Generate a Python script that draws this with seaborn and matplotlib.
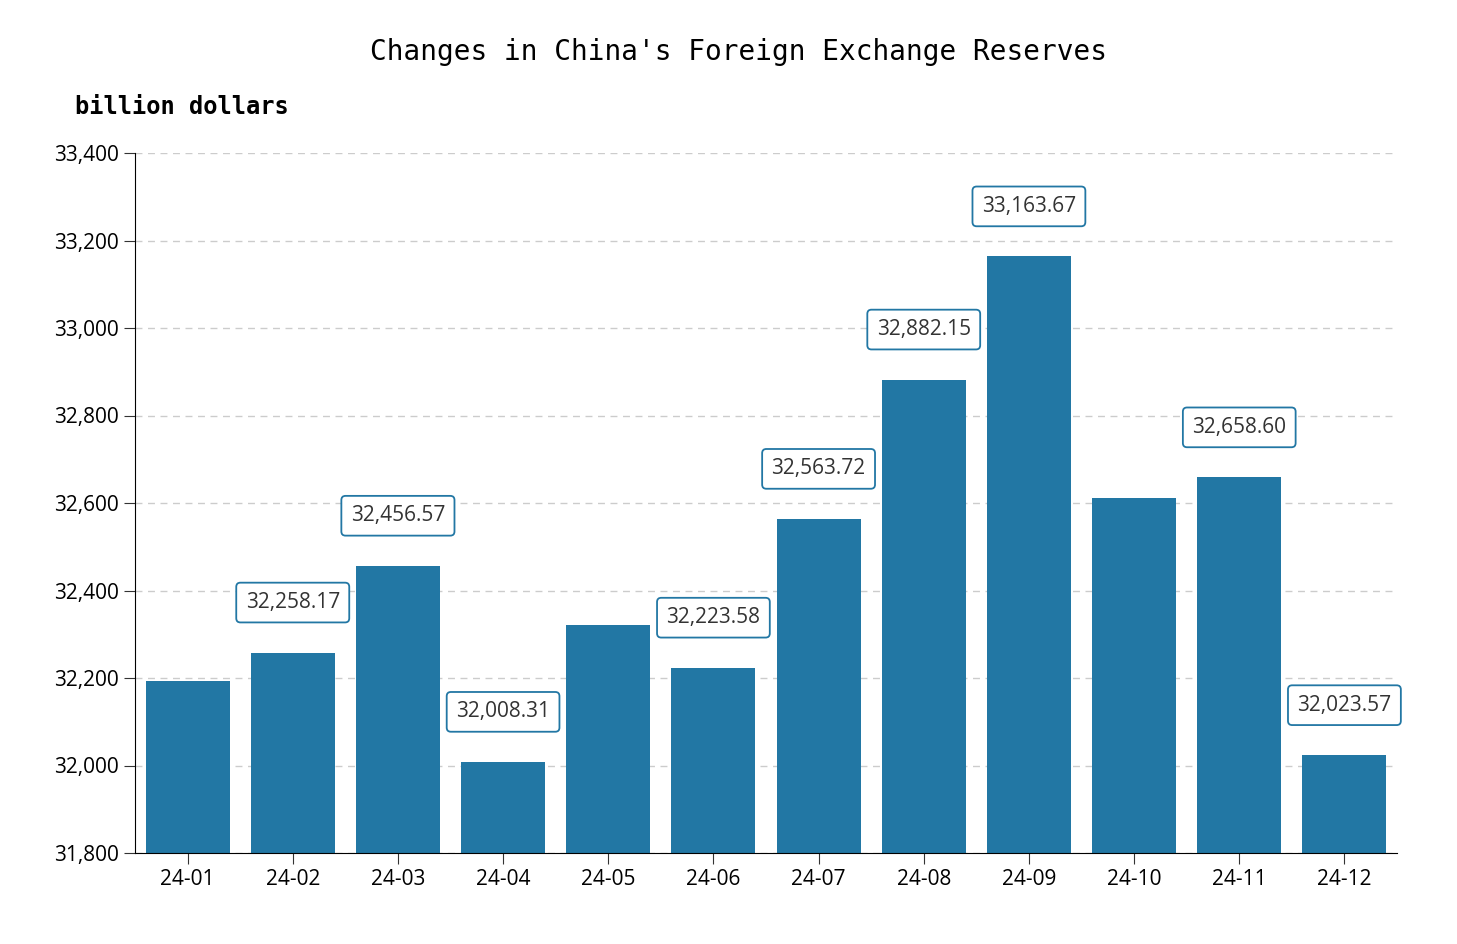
import matplotlib
matplotlib.use("Agg")
import matplotlib.pyplot as plt
import seaborn as sns
import pandas as pd

months = ["24-01","24-02","24-03","24-04","24-05","24-06","24-07","24-08","24-09","24-10","24-11","24-12"]
values = [32193.0, 32258.17, 32456.57, 32008.31, 32321.0, 32223.58, 32563.72, 32882.15, 33163.67, 32611.0, 32658.60, 32023.57]
labeled = [False, True, True, True, False, True, True, True, True, False, True, True]

df = pd.DataFrame({"month": months, "value": values})
fig = plt.figure(figsize=(14.57, 9.44), dpi=100)
ax = fig.add_axes([135/1457, 1-853/944, (1397-135)/1457, 700/944])
sns.barplot(data=df, x="month", y="value", color="#2277a4", saturation=1, width=0.8, ax=ax)
ax.set_ylim(31800, 33400)
ax.set_yticks(range(31800, 33401, 200))
ax.set_yticklabels([f"{v:,}" for v in range(31800, 33401, 200)], fontsize=15, fontfamily="Open Sans")
ax.set_xticklabels(months, fontsize=15, fontfamily="Open Sans")
ax.set_xlabel(""); ax.set_ylabel("")
ax.grid(axis="y", linestyle=(0, (5, 4)), color="#cccccc", linewidth=1)
ax.set_axisbelow(True)
for s in ["top", "right"]:
    ax.spines[s].set_visible(False)
ax.tick_params(length=8, color="#333333")
for i, (v, lab) in enumerate(zip(values, labeled)):
    if lab:
        ax.annotate(f"{v:,.2f}", (i, v), xytext=(0, 36), textcoords="offset points",
                    ha="center", va="center", fontsize=15, fontfamily="Open Sans", color="#333333",
                    bbox=dict(boxstyle="round,pad=0.45,rounding_size=0.2", fc="white", ec="#2277a4", lw=1.3))
fig.text(0.507, 1-52/944, "Changes in China's Foreign Exchange Reserves", ha="center", va="center",
         fontsize=20, fontfamily="DejaVu Sans Mono")
fig.text(75/1457, 1-107/944, "billion dollars", ha="left", va="center", fontsize=17,
         fontfamily="DejaVu Sans Mono", fontweight="bold")
fig.savefig("out.png", dpi=100)
